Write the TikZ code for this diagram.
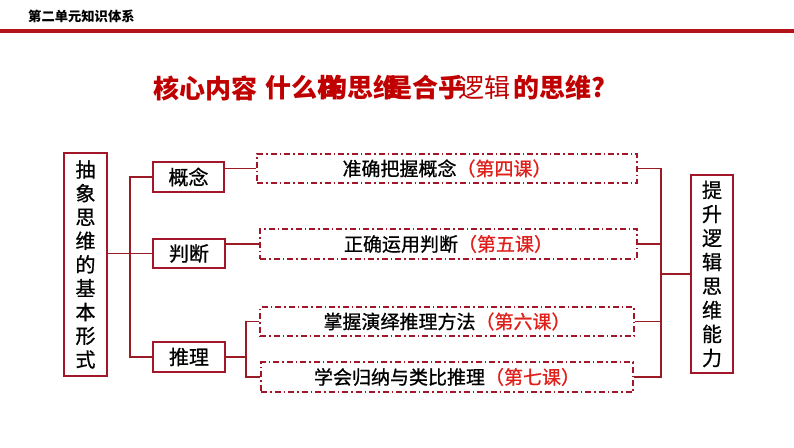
\documentclass[tikz,border=0pt]{standalone}
\usepackage{fontspec}
\setmainfont{Noto Sans CJK SC}
\newfontfamily\cjkfont{Noto Sans CJK SC}
\newfontfamily\cjkheavy{Noto Sans CJK SC}[FakeBold=0.8]
\definecolor{boxred}{HTML}{A3162A}
\definecolor{linered}{HTML}{9B1B24}
\definecolor{hdrred}{HTML}{B3141B}
\definecolor{lessonred}{HTML}{E0201B}
\definecolor{titlered}{HTML}{C00000}
\tikzset{
  solidbox/.style={draw=boxred, line width=1.6pt, fill=white, inner sep=0pt, font=\cjkheavy\fontsize{20}{24}\selectfont},
  dashbox/.style={draw=boxred, line width=1.3pt, dash pattern=on 6pt off 3pt on 1.5pt off 3pt, inner sep=0pt, font=\cjkheavy\fontsize{19}{23}\selectfont},
  conn/.style={draw=linered, line width=1.6pt},
  ttl/.style={anchor=west, inner sep=0pt, text=titlered, font=\cjkfont\bfseries\fontsize{26}{30}\selectfont},
  lesson/.style={text=lessonred}
}
\begin{document}
\begin{tikzpicture}[x=1pt,y=-1pt]
\useasboundingbox[fill=white] (0,0) rectangle (794,447);
% header
\node[anchor=west, inner sep=0pt, font=\cjkfont\bfseries\fontsize{13.3}{15}\selectfont] (hdr) at (28,16.5) {第二单元知识体系};
\draw[draw=hdrred, line width=3.5pt] (0,31) -- (794,31);
% title
\node[ttl] (t1) at (153,88) {核心内容};
\node[ttl] (t2) at (265,88) {什么样};
\node[ttl] (t3) at (321,88) {的思维};
\node[ttl] (t4) at (386,88) {是合乎};
\node[ttl, font=\cjkfont\fontsize{26}{30}\selectfont] (t5) at (458,88) {逻辑};
\node[ttl] (t6) at (513,88) {的思维?};
% left box
\node[solidbox, minimum width=43pt, minimum height=223pt, align=center, font=\cjkheavy\fontsize{20}{23.75}\selectfont] (lb) at (85.5,264.5) {抽\\象\\思\\维\\的\\基\\本\\形\\式};
% second column
\node[solidbox, minimum width=71pt, minimum height=30pt] (gn) at (188.5,177) {概念};
\node[solidbox, minimum width=72pt, minimum height=29pt] (pd) at (189,253.5) {判断};
\node[solidbox, minimum width=72pt, minimum height=30pt] (tl) at (189,357) {推理};
% dashed boxes
\node[dashbox, minimum width=380pt, minimum height=29pt] (d1) at (447,168.5) {准确把握概念\textcolor{lessonred}{（第四课）}};
\node[dashbox, minimum width=377pt, minimum height=30pt] (d2) at (448.5,244) {正确运用判断\textcolor{lessonred}{（第五课）}};
\node[dashbox, minimum width=374pt, minimum height=29pt] (d3) at (447,321.5) {掌握演绎推理方法\textcolor{lessonred}{（第六课）}};
\node[dashbox, minimum width=372pt, minimum height=30pt] (d4) at (447,377) {学会归纳与类比推理\textcolor{lessonred}{（第七课）}};
% right box
\node[solidbox, minimum width=42pt, minimum height=198pt, align=center, font=\cjkheavy\fontsize{20}{24}\selectfont] (rb) at (712,274) {提\\升\\逻\\辑\\思\\维\\能\\力};
% connectors left
\coordinate (tx) at (130,0);
\draw[conn] (gn.west) -- (gn.west -| tx) -- (tl.west -| tx) -- (tl.west);
\draw[conn] (lb.east |- pd.west) -- (pd.west);
\draw[conn] (gn.east |- d1.west) -- (d1.west);
\draw[conn] (pd.east |- d2.west) -- (d2.west);
\draw[conn] (tl.east) -- ++(20,0) coordinate (j);
\draw[conn] (d3.west) -| (j) |- (d4.west);
% connectors right
\coordinate (rx) at (661,0);
\draw[conn] (d1.east) -- (d1.east -| rx) -- (d4.east -| rx) -- (d4.east);
\draw[conn] (d2.east) -- (d2.east -| rx);
\draw[conn] (d3.east) -- (d3.east -| rx);
\draw[conn] (rb.west) -- (rb.west -| rx);
\end{tikzpicture}
\end{document}
